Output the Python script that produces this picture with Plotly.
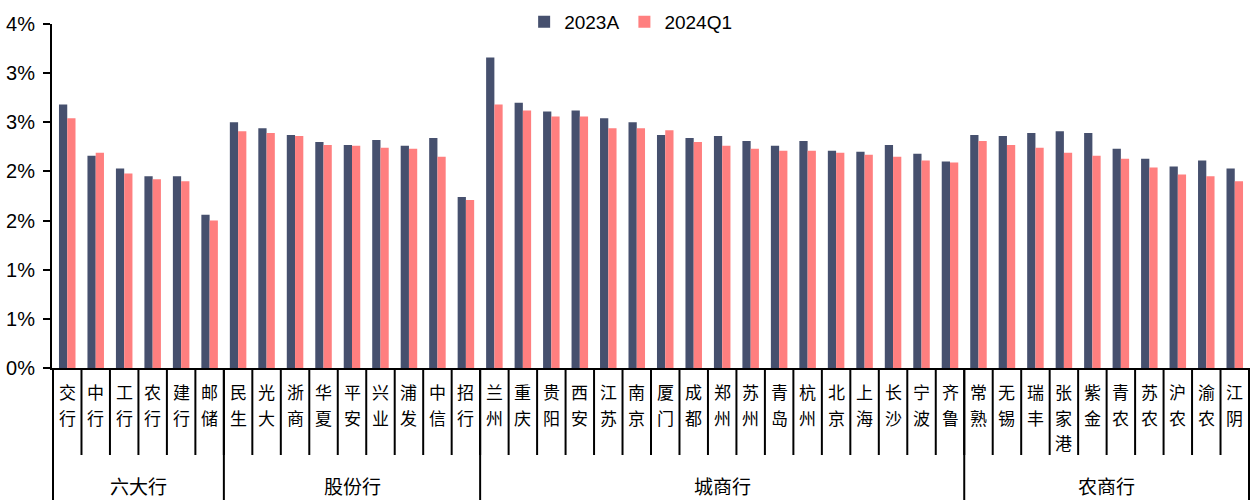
import plotly.graph_objects as go

# Banks, grouped by type (六大行 / 股份行 / 城商行 / 农商行)
banks = [
    "交行", "中行", "工行", "农行", "建行", "邮储",
    "民生", "光大", "浙商", "华夏", "平安", "兴业", "浦发", "中信", "招行",
    "兰州", "重庆", "贵阳", "西安", "江苏", "南京", "厦门", "成都", "郑州",
    "苏州", "青岛", "杭州", "北京", "上海", "长沙", "宁波", "齐鲁",
    "常熟", "无锡", "瑞丰", "张家港", "紫金", "青农", "苏农", "沪农", "渝农", "江阴",
]
group_names = ["六大行", "股份行", "城商行", "农商行"]
group_sizes = [6, 9, 17, 10]

# Values in percent
values_2023a = [
    2.68, 2.16, 2.03, 1.95, 1.95, 1.56,
    2.50, 2.44, 2.37, 2.30, 2.27, 2.32, 2.26, 2.34, 1.74,
    3.16, 2.70, 2.61, 2.62, 2.54, 2.50, 2.37, 2.34, 2.36,
    2.31, 2.26, 2.31, 2.21, 2.20, 2.27, 2.18, 2.10,
    2.37, 2.36, 2.39, 2.41, 2.39, 2.23, 2.13, 2.05, 2.11, 2.03,
]
values_2024q1 = [
    2.54, 2.19, 1.98, 1.92, 1.90, 1.50,
    2.41, 2.39, 2.36, 2.27, 2.26, 2.24, 2.23, 2.15, 1.71,
    2.68, 2.62, 2.56, 2.56, 2.44, 2.44, 2.42, 2.30, 2.26,
    2.23, 2.21, 2.21, 2.19, 2.17, 2.15, 2.11, 2.09,
    2.31, 2.27, 2.24, 2.19, 2.16, 2.13, 2.04, 1.97, 1.95, 1.90,
]

y_tick_vals = [0, 0.5, 1.0, 1.5, 2.0, 2.5, 3.0, 3.5]
y_tick_text = ["0%", "1%", "1%", "2%", "2%", "3%", "3%", "4%"]

DARK = "#46506E"
PINK = "#FF7F7F"
LINE = "#000000"
LATIN = "Liberation Sans, Arial, sans-serif"
CJK = "Noto Sans CJK SC, sans-serif"

fig = go.Figure()
fig.add_trace(go.Bar(name="2023A", x=banks, y=values_2023a, marker_color=DARK,
                     marker_line_width=0))
fig.add_trace(go.Bar(name="2024Q1", x=banks, y=values_2024q1, marker_color=PINK,
                     marker_line_width=0))

plot_h = 500 - 24 - 132
label_row = 87 / plot_h      # depth of the bank-name row below the axis
first_char = 24 / plot_h     # centre of the first character below the axis
char_step = 25 / plot_h      # vertical step between stacked characters
group_row = 117 / plot_h     # centre of the group-name row below the axis

shapes = []
annotations = []

# bank names written top-to-bottom, one character per line
for i, name in enumerate(banks):
    for k, ch in enumerate(name):
        annotations.append(dict(text=ch, xref="x", yref="paper",
                                x=i, y=-(first_char + k * char_step),
                                xanchor="center", yanchor="middle",
                                showarrow=False,
                                font=dict(family=CJK, size=17, color="#000")))

# separators between bank names
for i in range(len(banks) + 1):
    shapes.append(dict(type="line", xref="x", yref="paper",
                       x0=i - 0.5, x1=i - 0.5, y0=0, y1=-label_row,
                       line=dict(color=LINE, width=2)))

# separators between bank groups, running to the bottom edge
bounds = [0]
for size in group_sizes:
    bounds.append(bounds[-1] + size)
for b in bounds:
    shapes.append(dict(type="line", xref="x", yref="paper",
                       x0=b - 0.5, x1=b - 0.5, y0=0, y1=-0.5,
                       line=dict(color=LINE, width=2)))
for name, lo, hi in zip(group_names, bounds[:-1], bounds[1:]):
    annotations.append(dict(text=name, xref="x", yref="paper",
                            x=(lo + hi - 1) / 2, y=-group_row,
                            xanchor="center", yanchor="middle", showarrow=False,
                            font=dict(family=CJK, size=19, color="#000")))

fig.update_layout(
    width=1252, height=500,
    margin=dict(l=52, r=2, t=24, b=132),
    paper_bgcolor="white", plot_bgcolor="white",
    barmode="group", bargap=0.42, bargroupgap=0,
    font=dict(family=LATIN, color="#000"),
    legend=dict(orientation="h", x=0.483, xanchor="center",
                y=1.006, yanchor="middle",
                font=dict(family=LATIN, size=19, color="#000"),
                itemwidth=30, bgcolor="rgba(0,0,0,0)"),
    shapes=shapes,
    annotations=annotations,
)
fig.update_xaxes(
    type="category", categoryorder="array", categoryarray=banks,
    showticklabels=False, ticks="",
    showline=True, linecolor=LINE, linewidth=2, showgrid=False,
)
fig.update_yaxes(
    range=[0, 3.5], tickmode="array", tickvals=y_tick_vals, ticktext=y_tick_text,
    ticks="outside", ticklen=7, tickwidth=2, tickcolor=LINE,
    showline=True, linecolor=LINE, linewidth=2,
    showgrid=False, zeroline=False, ticklabelstandoff=4,
    tickfont=dict(family=LATIN, size=20, color="#000"),
)

fig.write_html("out.html")
